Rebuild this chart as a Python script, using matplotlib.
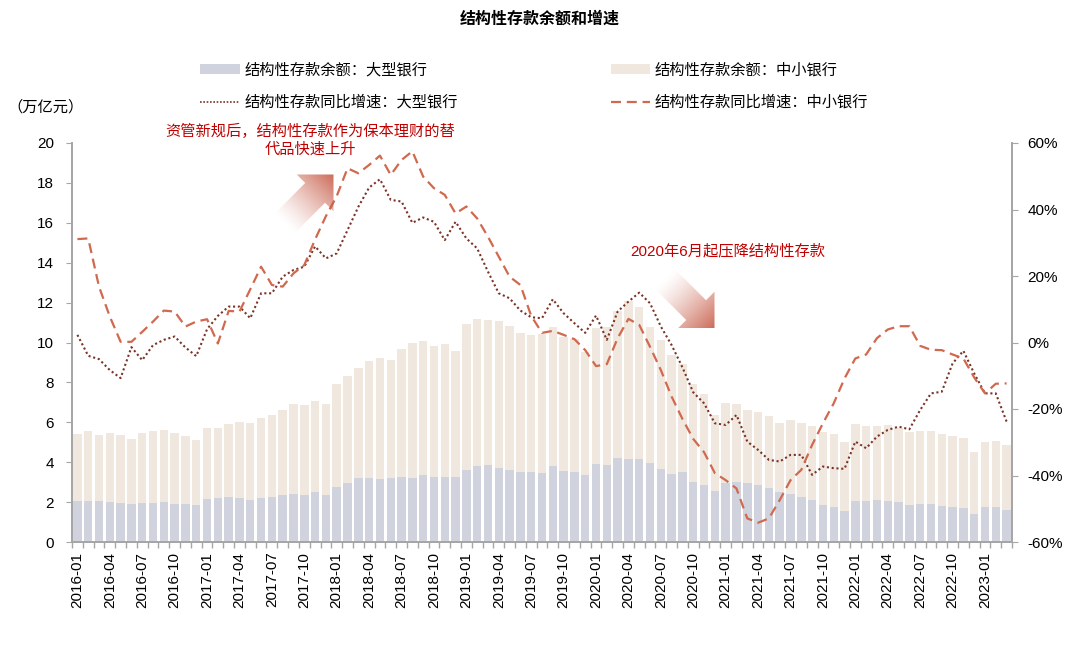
import matplotlib
matplotlib.use("Agg")
import matplotlib.pyplot as plt
import numpy as np
from matplotlib.patches import Polygon, Patch
from matplotlib.lines import Line2D
from matplotlib.colors import to_rgb
from matplotlib.ticker import FuncFormatter

plt.rcParams['font.family'] = ['Liberation Sans', 'Noto Sans CJK SC']

# months 2016-01 .. 2023-03
months = [f"{y}-{m:02d}" for y in range(2016, 2024) for m in range(1, 13)][:87]

# 结构性存款余额：大型银行 (万亿元)
large_bal = [2.07, 2.07, 2.04, 1.99, 1.95, 1.90, 1.95, 1.94, 1.99, 1.92, 1.90, 1.85,
             2.15, 2.22, 2.26, 2.21, 2.11, 2.21, 2.26, 2.34, 2.42, 2.37, 2.51, 2.36,
             2.76, 2.97, 3.19, 3.22, 3.16, 3.19, 3.27, 3.21, 3.37, 3.27, 3.27, 3.26,
             3.63, 3.83, 3.88, 3.73, 3.63, 3.51, 3.49, 3.48, 3.83, 3.56, 3.49, 3.36,
             3.93, 3.88, 4.21, 4.18, 4.18, 3.96, 3.66, 3.42, 3.53, 3.00, 2.86, 2.56,
             2.94, 3.02, 2.97, 2.86, 2.71, 2.52, 2.41, 2.26, 2.11, 1.85, 1.75, 1.57,
             2.06, 2.06, 2.11, 2.07, 2.02, 1.85, 1.90, 1.90, 1.79, 1.75, 1.72, 1.40,
             1.74, 1.74, 1.60]

# 结构性存款余额：中小银行 (万亿元)
small_bal = [3.34, 3.49, 3.34, 3.47, 3.43, 3.25, 3.50, 3.64, 3.62, 3.54, 3.43, 3.26,
             3.58, 3.51, 3.65, 3.81, 3.85, 3.99, 4.09, 4.26, 4.48, 4.48, 4.56, 4.56,
             5.16, 5.33, 5.53, 5.87, 6.04, 5.95, 6.39, 6.76, 6.71, 6.55, 6.64, 6.31,
             7.30, 7.35, 7.25, 7.35, 7.20, 6.95, 6.89, 6.93, 6.96, 6.72, 6.69, 6.18,
             6.81, 6.90, 7.39, 7.90, 7.60, 6.82, 6.47, 5.95, 5.39, 4.90, 4.56, 3.82,
             4.03, 3.91, 3.65, 3.64, 3.59, 3.46, 3.69, 3.70, 3.69, 3.68, 3.66, 3.46,
             3.85, 3.77, 3.69, 3.79, 3.68, 3.65, 3.68, 3.66, 3.62, 3.56, 3.51, 3.11,
             3.29, 3.32, 3.26]

# 结构性存款同比增速：大型银行 (%)
large_yoy = [2.3, -4.0, -5.0, -8.3, -10.7, -1.4, -5.3, -0.8, 0.8, 1.8, -1.5, -4.1,
             4.0, 8.0, 10.8, 10.8, 7.3, 14.8, 14.8, 19.8, 21.8, 22.8, 28.9, 25.3,
             26.8, 33.8, 40.8, 46.6, 49.1, 42.9, 42.4, 36.0, 37.6, 36.3, 30.8, 36.3,
             31.3, 28.3, 21.3, 14.8, 13.3, 9.6, 7.6, 7.3, 13.0, 8.8, 5.8, 2.9,
             8.1, 0.8, 9.3, 12.3, 15.0, 11.8, 4.8, -0.8, -7.5, -15.0, -18.3, -24.3,
             -24.8, -21.8, -29.8, -32.3, -35.3, -35.8, -33.8, -33.8, -39.8, -37.3, -37.8, -38.0,
             -29.8, -31.8, -28.3, -26.3, -25.3, -26.1, -20.3, -15.3, -14.8, -6.3, -2.5, -9.3,
             -15.3, -15.3, -23.8]

# 结构性存款同比增速：中小银行 (%)
small_yoy = [31.1, 31.3, 16.8, 7.8, 0.2, 0.2, 3.2, 6.3, 9.6, 9.3, 4.8, 6.3,
             7.0, -0.3, 9.5, 9.3, 16.0, 22.8, 17.3, 16.8, 20.8, 23.3, 31.0, 38.0,
             44.0, 52.4, 50.9, 53.4, 56.2, 50.4, 54.9, 57.5, 49.9, 46.4, 44.4, 38.8,
             40.9, 37.3, 31.8, 25.8, 19.8, 17.3, 8.0, 2.9, 3.5, 2.3, 1.0, -2.3,
             -7.1, -6.5, 1.3, 7.1, 5.3, -1.3, -8.3, -16.3, -23.0, -29.0, -33.0, -39.3,
             -41.4, -43.9, -52.9, -54.2, -52.9, -47.4, -41.4, -38.3, -30.8, -24.3, -18.3, -10.8,
             -4.8, -3.6, 1.3, 3.9, 4.9, 4.9, -1.0, -2.2, -2.3, -3.6, -4.8, -10.5,
             -15.3, -12.4, -12.3]

c_large = '#d0d3de'
c_small = '#f0e8de'
c_dot = '#7a3326'
c_dash = '#d0694e'
c_red = '#c00000'
c_axis = '#a6a6a6'

fig = plt.figure(figsize=(10.8, 6.49), dpi=100)
ax = fig.add_axes([72 / 1080, 1 - 542 / 649, 940 / 1080, 399 / 649])
x = np.arange(len(months))

ax.bar(x, large_bal, width=0.78, color=c_large, zorder=2)
ax.bar(x, small_bal, width=0.78, bottom=large_bal, color=c_small, zorder=2)
ax.set_xlim(-0.5, len(months) - 0.5)
ax.set_ylim(0, 20)
ax.set_yticks(range(0, 21, 2))

ax2 = ax.twinx()
ax2.plot(x, large_yoy, color=c_dot, lw=1.5, linestyle=(0, (1, 1.3)))
ax2.plot(x, small_yoy, color=c_dash, lw=1.6, linestyle=(0, (4.5, 2.6)))
ax2.set_ylim(-60, 60)
ax2.set_yticks(range(-60, 61, 20))
ax2.yaxis.set_major_formatter(FuncFormatter(lambda v, p: f"{v:.0f}%"))

ax.set_xticks(x[::3])
ax.set_xticklabels(months[::3], rotation=90, fontsize=11)
ax.set_xticks(np.arange(-0.5, len(months), 1), minor=True)
ax.tick_params(axis='x', which='major', length=0, pad=7)
ax.tick_params(axis='x', which='minor', length=4, color=c_axis, width=1)
ax.tick_params(axis='y', length=4, color=c_axis, labelsize=11, pad=9)
ax2.tick_params(axis='y', length=4, color=c_axis, labelsize=11, pad=7)

for a in (ax, ax2):
    a.spines['top'].set_visible(False)
    for s in ('left', 'right', 'bottom'):
        a.spines[s].set_color(c_axis)
        a.spines[s].set_linewidth(1.3)

# overlay in pixel coordinates for texts and arrows
ov = fig.add_axes([0, 0, 1, 1], zorder=5)
ov.set_xlim(0, 1080)
ov.set_ylim(649, 0)
ov.axis('off')
ov.patch.set_alpha(0)


def grad_arrow(tail, tip, color, shaft_hw, head_len, head_hw):
    tail = np.array(tail, float)
    tip = np.array(tip, float)
    d = tip - tail
    L = np.hypot(*d)
    u = d / L
    n = np.array([-u[1], u[0]])
    b = tip - u * head_len
    pts = [tail + n * shaft_hw, b + n * shaft_hw, b + n * head_hw, tip,
           b - n * head_hw, b - n * shaft_hw, tail - n * shaft_hw]
    poly = Polygon(pts, closed=True, facecolor='none', edgecolor='none')
    ov.add_patch(poly)
    xs = [p[0] for p in pts]
    ys = [p[1] for p in pts]
    x0, x1, y0, y1 = min(xs), max(xs), min(ys), max(ys)
    gx, gy = np.meshgrid(np.linspace(x0, x1, 200), np.linspace(y0, y1, 200))
    t = np.clip(((gx - tail[0]) * u[0] + (gy - tail[1]) * u[1]) / L, 0, 1)
    rgba = np.zeros((200, 200, 4))
    rgba[..., :3] = to_rgb(color)
    rgba[..., 3] = 0.9 * t ** 1.3
    im = ov.imshow(rgba, extent=(x0, x1, y0, y1), origin='lower', aspect='auto', zorder=3)
    im.set_clip_path(poly)


grad_arrow((284, 224), (333.5, 174.5), '#c65a45', 14, 26, 26)
grad_arrow((665, 279), (714.5, 328.5), '#c65a45', 14, 26, 26)
ov.set_xlim(0, 1080)
ov.set_ylim(649, 0)

ov.text(540, 19, '结构性存款余额和增速', ha='center', va='center', fontsize=11.5, fontweight='bold')
ov.text(46, 107, '（万亿元）', ha='center', va='center', fontsize=11)
ov.text(310, 140, '资管新规后，结构性存款作为保本理财的替\n代品快速上升', ha='center', va='center',
        fontsize=11, color=c_red, linespacing=1.35)
ov.text(630, 251, '2020年6月起压降结构性存款', ha='left', va='center', fontsize=11, color=c_red)

handles = [Patch(facecolor=c_large, edgecolor='none'),
           Line2D([], [], color=c_dot, lw=1.2, linestyle=(0, (1, 1))),
           Patch(facecolor=c_small, edgecolor='none'),
           Line2D([], [], color=c_dash, lw=1.6, linestyle=(0, (4.5, 2.6)))]
labels = ['结构性存款余额：大型银行', '结构性存款同比增速：大型银行',
          '结构性存款余额：中小银行', '结构性存款同比增速：中小银行']
fig.legend(handles, labels, ncol=2, loc='upper left', bbox_to_anchor=(200 / 1080, 1 - 63 / 649),
           frameon=False, fontsize=11, handlelength=2.6, handleheight=0.6, handletextpad=0.3,
           columnspacing=10.0, labelspacing=1.15, borderpad=0, borderaxespad=0)

fig.savefig('out.png', dpi=100)
